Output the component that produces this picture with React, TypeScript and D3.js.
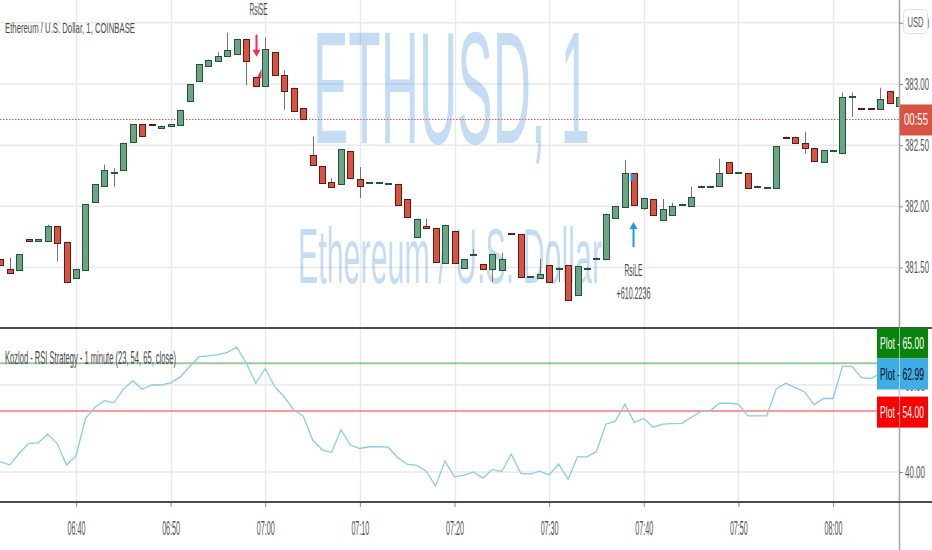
import { useEffect, useRef } from "react"
import * as d3 from "d3"

// One-minute ETH/USD bars, first bar at 06:32
const startTime = "06:32"
const opens = [
  381.57, 381.49, 381.48, 381.73, 381.71, 381.72, 381.84, 381.71, 381.42, 381.48, 382.03, 382.17, 382.27, 382.3, 382.52, 382.67,
  382.67, 382.64, 382.65, 382.67, 382.86, 383.02, 383.15, 383.19, 383.23, 383.25, 383.37, 383.06, 382.99, 383.26, 383.07, 382.97,
  382.8, 382.42, 382.33, 382.2, 382.18, 382.45, 382.22, 382.19, 382.19, 382.18, 382.18, 382.06, 381.75, 381.84, 381.82, 381.54,
  381.8, 381.5, 381.6, 381.53, 381.49, 381.48, 381.78, 381.77, 381.42, 381.42, 381.52, 381.49, 381.52, 381.27, 381.49, 381.57,
  381.57, 381.9, 381.99, 382.27, 381.99, 382.06, 381.89, 381.93, 382.01, 382.01, 382.16, 382.16, 382.16, 382.36, 382.27, 382.27,
  382.16, 382.15, 382.15, 382.57, 382.57, 382.52, 382.48, 382.36, 382.45, 382.43, 382.89, 382.8, 382.8, 382.8, 382.94, 382.82,
]
const highs = [
  381.57, 381.58, 381.61, 381.73, 381.73, 381.85, 381.84, 381.71, 381.49, 382.02, 382.18, 382.34, 382.31, 382.52, 382.67, 382.67,
  382.67, 382.66, 382.67, 382.79, 383.0, 383.16, 383.2, 383.26, 383.42, 383.37, 383.37, 383.06, 383.38, 383.26, 383.11, 382.97,
  382.8, 382.57, 382.33, 382.23, 382.47, 382.45, 382.32, 382.2, 382.2, 382.19, 382.18, 382.06, 381.9, 381.9, 381.82, 381.85,
  381.8, 381.57, 381.65, 381.53, 381.61, 381.62, 381.78, 381.77, 381.43, 381.57, 381.52, 381.5, 381.52, 381.51, 381.5, 381.58,
  381.94, 382.0, 382.38, 382.27, 382.07, 382.06, 382.06, 382.03, 382.02, 382.16, 382.17, 382.17, 382.39, 382.36, 382.28, 382.27,
  382.17, 382.16, 382.49, 382.57, 382.57, 382.61, 382.48, 382.46, 382.46, 382.93, 382.93, 382.8, 382.8, 382.97, 382.94, 382.89,
]
const lows = [
  381.52, 381.46, 381.48, 381.71, 381.71, 381.72, 381.55, 381.37, 381.41, 381.48, 382.03, 382.17, 382.16, 382.3, 382.52, 382.57,
  382.66, 382.64, 382.65, 382.67, 382.86, 383.02, 383.15, 383.19, 383.23, 383.25, 382.99, 382.99, 382.99, 383.07, 382.79, 382.78,
  382.71, 382.34, 382.19, 382.16, 382.18, 382.23, 382.07, 382.19, 382.19, 382.18, 382.01, 381.91, 381.75, 381.82, 381.54, 381.54,
  381.54, 381.5, 381.6, 381.49, 381.38, 381.48, 381.77, 381.42, 381.42, 381.42, 381.38, 381.38, 381.23, 381.27, 381.49, 381.57,
  381.57, 381.9, 381.99, 382.01, 381.97, 381.93, 381.89, 381.93, 382.01, 382.01, 382.16, 382.16, 382.16, 382.27, 382.27, 382.15,
  382.16, 382.15, 382.15, 382.56, 382.52, 382.43, 382.37, 382.36, 382.45, 382.43, 382.73, 382.79, 382.79, 382.8, 382.84, 382.82,
]
const closes = [
  381.52, 381.46, 381.61, 381.71, 381.73, 381.84, 381.7, 381.38, 381.49, 382.02, 382.18, 382.3, 382.28, 382.52, 382.67, 382.57,
  382.66, 382.66, 382.67, 382.79, 383.0, 383.16, 383.2, 383.23, 383.28, 383.37, 383.19, 382.99, 383.29, 383.07, 382.94, 382.78,
  382.71, 382.34, 382.19, 382.16, 382.47, 382.23, 382.16, 382.2, 382.2, 382.19, 382.01, 381.91, 381.9, 381.82, 381.54, 381.85,
  381.54, 381.57, 381.61, 381.49, 381.61, 381.57, 381.77, 381.42, 381.43, 381.45, 381.38, 381.5, 381.23, 381.51, 381.5, 381.58,
  381.94, 382.0, 382.27, 382.01, 382.07, 381.93, 381.98, 382.0, 382.02, 382.08, 382.17, 382.17, 382.27, 382.27, 382.28, 382.15,
  382.17, 382.16, 382.49, 382.56, 382.52, 382.48, 382.37, 382.46, 382.46, 382.89, 382.9, 382.79, 382.79, 382.88, 382.84, 382.89,
]
const rsiValues = [
  42.4, 41.6, 44.3, 46.6, 46.7, 48.7, 46.6, 41.6, 43.7, 52.3, 54.9, 56.4, 55.9, 59.0, 61.0, 59.0,
  60.0, 60.0, 60.5, 61.8, 64.2, 66.5, 66.7, 67.0, 67.5, 68.7, 65.0, 60.4, 63.8, 59.6, 57.3, 54.3,
  52.9, 47.4, 45.1, 44.5, 49.7, 46.2, 45.4, 45.8, 45.8, 45.7, 43.3, 41.8, 41.5, 40.2, 36.8, 42.5,
  38.9, 39.3, 40.0, 38.6, 40.6, 40.1, 44.1, 39.7, 39.5, 40.2, 39.3, 41.8, 38.3, 43.5, 43.5, 44.7,
  51.0, 51.7, 55.6, 51.4, 52.3, 50.3, 51.0, 51.1, 51.2, 52.5, 53.9, 54.0, 55.8, 55.8, 55.6, 52.9,
  52.9, 52.9, 59.1, 60.4, 59.4, 58.4, 55.5, 56.9, 56.9, 64.3, 64.3, 61.7, 61.5, 62.7, 63.2, 62.99,
]

const timeTicks = ["06:40", "06:50", "07:00", "07:10", "07:20", "07:30", "07:40", "07:50", "08:00"]
const priceTicks = [381.5, 382, 382.5, 383, 383.5]
const rsiTicks = [40, 60]
const rsiUpper = 65
const rsiLower = 54
const rsiLast = 62.99
const lastPrice = 382.71
const countdown = "00:55"
const shortSignal = { time: "06:59", label: "RsiSE" }
const longSignal = { time: "07:39", label: "RsiLE", profit: "+610.2236" }

const W = 932
const H = 550
const AXIS_X = 899
const FONT = "'Liberation Sans', Arial, sans-serif"

export default function App() {
  const svgRef = useRef<SVGSVGElement>(null)

  useEffect(() => {
    if (!svgRef.current) return
    const svg = d3.select(svgRef.current)
    svg.selectAll("*").remove()

    const parse = d3.timeParse("%H:%M")
    const t0 = parse(startTime) as Date
    const bars = opens.map((o, i) => ({
      t: d3.timeMinute.offset(t0, i),
      o,
      h: highs[i],
      l: lows[i],
      c: closes[i],
      rsi: rsiValues[i],
    }))

    const x = d3.scaleTime().domain([parse("06:40") as Date, parse("08:00") as Date]).range([76, 833])
    const y = d3.scaleLinear().domain([381.5, 383]).range([267.5, 84])
    const yr = d3.scaleLinear().domain([40, 60]).range([472, 385])

    const mainTop = 0
    const mainBottom = 327
    const rsiTop = 329
    const rsiBottom = 501

    const defs = svg.append("defs")
    defs.append("clipPath").attr("id", "clip-main").append("rect").attr("x", 0).attr("y", mainTop).attr("width", AXIS_X).attr("height", mainBottom - mainTop)
    defs.append("clipPath").attr("id", "clip-rsi").append("rect").attr("x", 0).attr("y", rsiTop).attr("width", AXIS_X).attr("height", rsiBottom - rsiTop)

    svg.append("rect").attr("width", W).attr("height", H).attr("fill", "#ffffff")

    const tickDates = timeTicks.map((s) => parse(s) as Date)

    // grid
    const grid = svg.append("g").attr("stroke", "#e9e9ea").attr("stroke-width", 1.5)
    grid.selectAll(".vx").data(tickDates).join("line")
      .attr("x1", (d) => Math.round(x(d)) + 0.5).attr("x2", (d) => Math.round(x(d)) + 0.5)
      .attr("y1", mainTop).attr("y2", rsiBottom)
    grid.selectAll(".hp").data(priceTicks).join("line")
      .attr("x1", 0).attr("x2", AXIS_X).attr("y1", (d) => y(d)).attr("y2", (d) => y(d))
    grid.selectAll(".hr").data(rsiTicks).join("line")
      .attr("x1", 0).attr("x2", AXIS_X).attr("y1", (d) => yr(d)).attr("y2", (d) => yr(d))

    // watermark
    const wm = svg.append("g").attr("fill", "rgba(25,118,210,0.25)").attr("font-family", FONT)
    wm.append("text").attr("x", 313).attr("y", 143).attr("font-size", 160)
      .attr("textLength", 277).attr("lengthAdjust", "spacingAndGlyphs").text("ETHUSD, 1")
    wm.append("text").attr("x", 298).attr("y", 283).attr("font-size", 77)
      .attr("textLength", 304).attr("lengthAdjust", "spacingAndGlyphs").text("Ethereum / U.S. Dollar")

    // last price dotted line
    svg.append("line").attr("x1", 0).attr("x2", AXIS_X).attr("y1", Math.round(y(lastPrice)) + 0.5).attr("y2", Math.round(y(lastPrice)) + 0.5)
      .attr("stroke", "#e0574a").attr("stroke-dasharray", "1.5,1.5").attr("stroke-width", 1)

    // candles
    const cg = svg.append("g").attr("clip-path", "url(#clip-main)")
    cg.selectAll(".wick").data(bars).join("line")
      .attr("x1", (d) => Math.round(x(d.t)) + 0.5).attr("x2", (d) => Math.round(x(d.t)) + 0.5)
      .attr("y1", (d) => y(d.h)).attr("y2", (d) => y(d.l))
      .attr("stroke", "#737375").attr("stroke-width", 1)
    cg.selectAll(".body").data(bars).join("rect")
      .attr("x", (d) => Math.round(x(d.t)) - 2.5)
      .attr("width", 6)
      .attr("y", (d) => Math.round(y(Math.max(d.o, d.c))) + 0.5)
      .attr("height", (d) => Math.max(1, Math.round(y(Math.min(d.o, d.c)) - y(Math.max(d.o, d.c)))))
      .attr("fill", (d) => (d.c >= d.o ? "#6ba583" : "#d75442"))
      .attr("stroke", (d) => (d.c >= d.o ? "#225437" : "#5b1a13"))
      .attr("stroke-width", 1)

    // signals
    const sBar = bars.find((b) => +b.t === +(parse(shortSignal.time) as Date))!
    const sx = Math.round(x(sBar.t)) + 0.5
    const sTip = y(sBar.h) - 21
    svg.append("line").attr("x1", sx).attr("x2", sx).attr("y1", sTip - 21).attr("y2", sTip - 4)
      .attr("stroke", "#f2295b").attr("stroke-width", 2)
    svg.append("path").attr("d", `M${sx - 4},${sTip - 6}L${sx + 4},${sTip - 6}L${sx},${sTip + 1}Z`).attr("fill", "#f2295b")
    svg.append("path").attr("d", `M${sx + 5},${y(sBar.o) - 8}L${sx + 5},${y(sBar.o) + 2}L${sx + 1},${y(sBar.o)}Z`).attr("fill", "#f2295b")
    svg.append("text").attr("x", sx + 2).attr("y", 15).attr("text-anchor", "middle").attr("font-family", FONT)
      .attr("font-size", 17).attr("fill", "#4a4a4a").attr("textLength", 18).attr("lengthAdjust", "spacingAndGlyphs").text(shortSignal.label)

    const lBar = bars.find((b) => +b.t === +(parse(longSignal.time) as Date))!
    const lx = Math.round(x(lBar.t)) - 0.5
    const lTip = y(lBar.l) + 18
    svg.append("line").attr("x1", lx).attr("x2", lx).attr("y1", lTip + 4).attr("y2", lTip + 24)
      .attr("stroke", "#2196f3").attr("stroke-width", 2)
    svg.append("path").attr("d", `M${lx - 4},${lTip + 6}L${lx + 4},${lTip + 6}L${lx},${lTip - 1}Z`).attr("fill", "#2196f3")
    svg.append("path").attr("d", `M${lx - 3},${y(lBar.o) - 1}L${lx + 2},${y(lBar.o) + 4}L${lx - 3},${y(lBar.o) + 9}Z`).attr("fill", "#2196f3")
    svg.append("text").attr("x", lx).attr("y", 276).attr("text-anchor", "middle").attr("font-family", FONT)
      .attr("font-size", 17).attr("fill", "#4a4a4a").attr("textLength", 18).attr("lengthAdjust", "spacingAndGlyphs").text(longSignal.label)
    svg.append("text").attr("x", lx).attr("y", 299).attr("text-anchor", "middle").attr("font-family", FONT)
      .attr("font-size", 17).attr("fill", "#4a4a4a").attr("textLength", 34).attr("lengthAdjust", "spacingAndGlyphs").text(longSignal.profit)

    // RSI levels and line
    const rg = svg.append("g").attr("clip-path", "url(#clip-rsi)")
    rg.append("line").attr("x1", 0).attr("x2", AXIS_X).attr("y1", yr(rsiUpper)).attr("y2", yr(rsiUpper))
      .attr("stroke", "rgba(0,128,0,0.4)").attr("stroke-width", 2)
    rg.append("line").attr("x1", 0).attr("x2", AXIS_X).attr("y1", yr(rsiLower)).attr("y2", yr(rsiLower))
      .attr("stroke", "rgba(255,0,0,0.4)").attr("stroke-width", 2)
    const line = d3.line<(typeof bars)[number]>().x((d) => x(d.t)).y((d) => yr(d.rsi))
    rg.append("path").datum(bars).attr("d", line).attr("fill", "none").attr("stroke", "#86cde8").attr("stroke-width", 1.3)

    // titles
    svg.append("text").attr("x", 5).attr("y", 33).attr("font-family", FONT).attr("font-size", 15).attr("fill", "#4a4a4a")
      .attr("textLength", 130).attr("lengthAdjust", "spacingAndGlyphs").text("Ethereum / U.S. Dollar, 1, COINBASE")
    svg.append("text").attr("x", 5).attr("y", 364).attr("font-family", FONT).attr("font-size", 18).attr("fill", "#4a4a4a")
      .attr("textLength", 171).attr("lengthAdjust", "spacingAndGlyphs").text("Kozlod - RSI Strategy - 1 minute (23, 54, 65, close)")

    // pane borders and price axis line
    svg.append("line").attr("x1", AXIS_X + 0.5).attr("x2", AXIS_X + 0.5).attr("y1", 0).attr("y2", H).attr("stroke", "#a3a3a3").attr("stroke-width", 1.5)
    svg.append("line").attr("x1", 0).attr("x2", W).attr("y1", 328).attr("y2", 328).attr("stroke", "#4c4c4c").attr("stroke-width", 2)
    svg.append("line").attr("x1", 0).attr("x2", W).attr("y1", 502).attr("y2", 502).attr("stroke", "#4c4c4c").attr("stroke-width", 2)

    // axes
    const styleAxis = (g: d3.Selection<SVGGElement, unknown, null, undefined>, size: number, len: number) => {
      g.select(".domain").remove()
      g.selectAll(".tick line").attr("stroke", "#8a8a8a")
      g.selectAll(".tick text").attr("fill", "#555555").attr("font-size", size).attr("font-family", FONT)
        .attr("textLength", len).attr("lengthAdjust", "spacingAndGlyphs")
    }
    svg.append("g").attr("transform", `translate(0,503)`)
      .call(d3.axisBottom(x).tickValues(tickDates).tickFormat(d3.timeFormat("%H:%M") as any).tickSize(4).tickPadding(14))
      .call((g) => styleAxis(g as any, 20, 18))
    svg.append("g").attr("transform", `translate(${AXIS_X},0)`)
      .call(d3.axisRight(y).tickValues(priceTicks).tickFormat(d3.format(".2f")).tickSize(4).tickPadding(2))
      .call((g) => styleAxis(g as any, 17, 24))
    svg.append("g").attr("transform", `translate(${AXIS_X},0)`)
      .call(d3.axisRight(yr).tickValues(rsiTicks).tickFormat(d3.format(".2f")).tickSize(4).tickPadding(2))
      .call((g) => styleAxis(g as any, 17, 20))

    // USD badge
    svg.append("rect").attr("x", 903.5).attr("y", 9.5).attr("width", 24).attr("height", 24).attr("rx", 4)
      .attr("fill", "#ffffff").attr("stroke", "#e0e3eb")
    svg.append("text").attr("x", 915.5).attr("y", 27).attr("text-anchor", "middle").attr("font-family", FONT).attr("font-size", 15)
      .attr("fill", "#555555").attr("textLength", 16).attr("lengthAdjust", "spacingAndGlyphs").text("USD")

    // countdown badge on last price
    const ly = y(lastPrice)
    svg.append("rect").attr("x", AXIS_X + 1).attr("y", ly - 15).attr("width", W - AXIS_X - 1).attr("height", 31).attr("fill", "#d75442")
    svg.append("text").attr("x", 916).attr("y", ly + 6).attr("text-anchor", "middle").attr("font-family", FONT).attr("font-size", 17)
      .attr("fill", "#ffffff").attr("textLength", 24).attr("lengthAdjust", "spacingAndGlyphs").text(countdown)

    // RSI value labels
    const blueC = yr(rsiLast) + 2
    const labels = [
      { v: rsiUpper, c: blueC - 31, fill: "#0b820b", text: "#ffffff" },
      { v: rsiLast, c: blueC, fill: "#3eaee6", text: "#111111" },
      { v: rsiLower, c: yr(rsiLower) + 1, fill: "#ff0000", text: "#ffffff" },
    ]
    const lg = svg.append("g").selectAll("g").data(labels).join("g")
    lg.append("rect").attr("x", 877).attr("y", (d) => d.c - 15.5).attr("width", 51).attr("height", 31).attr("fill", (d) => d.fill)
    lg.append("text").attr("x", 902).attr("y", (d) => d.c + 6).attr("text-anchor", "middle").attr("font-family", FONT)
      .attr("font-size", 17).attr("fill", (d) => d.text).attr("textLength", 44).attr("lengthAdjust", "spacingAndGlyphs")
      .text((d) => `Plot - ${d3.format(".2f")(d.v)}`)
    svg.append("line").attr("x1", AXIS_X + 0.5).attr("x2", AXIS_X + 0.5).attr("y1", blueC - 46.5).attr("y2", yr(rsiLower) + 16.5)
      .attr("stroke", "rgba(255,255,255,0.55)").attr("stroke-width", 1)
  }, [])

  return <svg ref={svgRef} width={W} height={H} style={{ position: "absolute", left: 0, top: 0, display: "block" }} />
}
